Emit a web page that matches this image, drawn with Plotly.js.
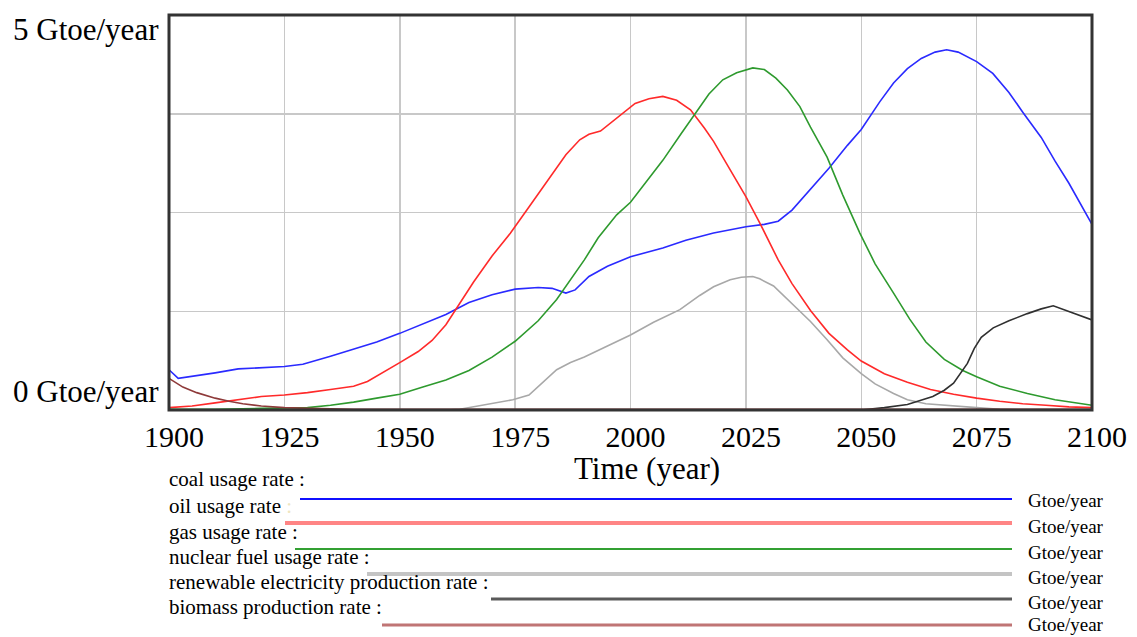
<!DOCTYPE html>
<html>
<head>
<meta charset="utf-8">
<script src="https://cdn.plot.ly/plotly-3.0.1.min.js"></script>
<style>html,body{margin:0;padding:0;background:#fff;}#chart{width:1137px;height:637px;}</style>
</head>
<body>
<div id="chart"></div>
<script>
// ---- data (Gtoe/year) ----
var coalYears = [1900,1902,1910,1915,1925,1929,1935,1940,1945,1950,1955,1960,1965,1970,1975,1980,1983,1986,1988,1991,1995,2000,2007,2012,2018,2025,2029,2032,2035,2039,2043,2047,2050,2054,2057,2060,2063,2066,2068.5,2071,2075,2078.5,2082,2085,2089,2092,2095,2100];
var coalValues = [0.51,0.40,0.47,0.52,0.55,0.58,0.68,0.77,0.86,0.97,1.09,1.21,1.36,1.46,1.53,1.55,1.54,1.48,1.52,1.69,1.82,1.94,2.05,2.15,2.24,2.32,2.35,2.39,2.53,2.80,3.06,3.35,3.55,3.90,4.14,4.32,4.45,4.53,4.56,4.53,4.41,4.26,4.02,3.77,3.45,3.15,2.87,2.35];

var oilYears = [1900,1905,1910,1915,1920,1925,1930,1935,1940,1943,1946,1950,1954,1957,1960,1963,1966,1970,1974,1978,1982,1986,1989,1991,1993.5,1996,1998.5,2001,2004,2007,2010,2013,2016,2018,2021,2025,2028,2032,2035,2039,2043,2047,2050,2055,2060,2065,2070,2075,2080,2085,2090,2095,2100];
var oilValues = [0.03,0.05,0.09,0.13,0.17,0.19,0.22,0.26,0.30,0.36,0.46,0.60,0.74,0.88,1.08,1.35,1.62,1.95,2.24,2.57,2.90,3.23,3.42,3.49,3.53,3.65,3.77,3.88,3.94,3.97,3.92,3.80,3.57,3.40,3.10,2.70,2.37,1.90,1.60,1.26,0.97,0.76,0.62,0.46,0.35,0.26,0.20,0.15,0.11,0.08,0.06,0.04,0.03];

var gasYears = [1900,1910,1920,1930,1935,1940,1945,1950,1955,1960,1965,1970,1975,1980,1984,1987,1990,1993,1997,2000,2004,2007,2011,2014.5,2017,2020,2023,2026.5,2029,2031.5,2034,2036.7,2039,2042.6,2046,2049.7,2053,2057,2060.5,2064,2068,2072,2075,2080,2086,2092,2100];
var gasValues = [0.01,0.01,0.02,0.03,0.06,0.10,0.15,0.20,0.29,0.38,0.50,0.67,0.87,1.13,1.40,1.65,1.90,2.18,2.47,2.63,2.93,3.16,3.50,3.80,4.00,4.18,4.27,4.33,4.31,4.20,4.05,3.84,3.58,3.20,2.72,2.24,1.85,1.48,1.15,0.86,0.64,0.50,0.42,0.30,0.21,0.13,0.06];

var nuclearYears = [1900,1960,1963,1966,1970,1974.5,1978,1981,1984,1987,1990,1995,2000,2005,2010.7,2015,2018,2021.6,2024,2026.5,2028,2031,2035,2039,2042.6,2046,2050,2053,2057,2060,2064,2070,2075,2080,2085,2100];
var nuclearValues = [0,0,0.01,0.04,0.08,0.13,0.19,0.35,0.51,0.60,0.67,0.81,0.95,1.11,1.27,1.45,1.56,1.65,1.68,1.69,1.66,1.57,1.35,1.12,0.89,0.66,0.46,0.33,0.21,0.13,0.08,0.05,0.03,0.01,0,0];

var renewableYears = [1900,2050,2055,2060,2065.5,2068,2070,2072,2073,2074.5,2076,2078.6,2082,2086,2089,2091.6,2094,2096,2100];
var renewableValues = [0,0,0.03,0.07,0.17,0.25,0.34,0.50,0.59,0.78,0.92,1.04,1.13,1.22,1.28,1.32,1.27,1.22,1.14];

var biomassYears = [1900,1901,1903,1906,1910,1913,1916,1920,1925,1930,1940,2100];
var biomassValues = [0.40,0.36,0.29,0.22,0.15,0.11,0.08,0.05,0.03,0.02,0.01,0.01];

var seriesNames = ["coal usage rate :", "oil usage rate <span style=\"color:#efe6c0\">:</span>", "gas usage rate :", "nuclear fuel usage rate :", "renewable electricity production rate :", "biomass production rate :"];
var unitLabel = "Gtoe/year";
var xTickVals = [1900,1925,1950,1975,2000,2025,2050,2075,2100];
var yGridVals = [0,1.25,2.5,3.75,5];
var yTickLabels = ["0 Gtoe/year","5 Gtoe/year"];
var xTitle = "Time (year)";

// ---- styles ----
var plotColors = ["#2a2aff","#ff2a2a","#2e9a2e","#a8a8a8","#303030","#8e3a3a"];
var legendColors = ["#1010ff","#ff8585","#33a033","#c4c4c4","#5a5a5a","#c07575"];
var legendWidths = [2,4,2,4,3,3];
var legendLineStart = [300,285,295,367,491,382];
var legendLineY = [499,523,549,574,599,625];
var legendTextY = [479,506,532,557,582,607];
var unitTextY = [500,526,552,577,602,624];

var PL = 169, PB = 410, PR = 1092, PT = 15;
var serif = "Liberation Serif, Times New Roman, serif";

var xs = [coalYears, oilYears, gasYears, nuclearYears, renewableYears, biomassYears];
var ys = [coalValues, oilValues, gasValues, nuclearValues, renewableValues, biomassValues];
var traces = [];
for (var i = 0; i < xs.length; i++) {
  traces.push({x: xs[i], y: ys[i], type: "scatter", mode: "lines",
    line: {color: plotColors[i], width: 1.6}, hoverinfo: "skip", cliponaxis: true});
}

var annotations = [];
var shapes = [];
// y labels
annotations.push({xref:"paper", yref:"y", x:0, y:5, xanchor:"right", yanchor:"top", xshift:-8, yshift:5,
  text:yTickLabels[1], showarrow:false, font:{family:serif, size:31, color:"#000"}});
annotations.push({xref:"paper", yref:"y", x:0, y:0, xanchor:"right", yanchor:"bottom", xshift:-8, yshift:-1,
  text:yTickLabels[0], showarrow:false, font:{family:serif, size:31, color:"#000"}});
// x title
annotations.push({xref:"paper", yref:"paper", x:(647-PL)/(PR-PL), y:0, xanchor:"center", yanchor:"middle",
  yshift:-(468-PB), text:xTitle, showarrow:false, font:{family:serif, size:31, color:"#000"}});

for (var k = 0; k < seriesNames.length; k++) {
  annotations.push({xref:"paper", yref:"paper", x:0, y:0, xanchor:"left", yanchor:"middle",
    xshift:(167-PL), yshift:-(legendTextY[k]-PB), text:seriesNames[k], showarrow:false,
    font:{family:serif, size:21, color:"#000"}});
  annotations.push({xref:"paper", yref:"paper", x:0, y:0, xanchor:"left", yanchor:"middle",
    xshift:(1026-PL), yshift:-(unitTextY[k]-PB), text:unitLabel, showarrow:false,
    font:{family:serif, size:19, color:"#000"}});
  shapes.push({type:"line", xref:"paper", yref:"paper", xsizemode:"pixel", ysizemode:"pixel",
    xanchor:0, yanchor:0, x0:legendLineStart[k]-PL, x1:1012-PL, y0:-(legendLineY[k]-PB), y1:-(legendLineY[k]-PB),
    line:{color:legendColors[k], width:legendWidths[k]}});
}
// frame
shapes.push({type:"rect", xref:"paper", yref:"paper", x0:0, x1:1, y0:0, y1:1, layer:"above",
  line:{color:"#333", width:3}});

var layout = {
  width: 1137, height: 637,
  margin: {l: PL, r: 1137-PR, t: PT, b: 637-PB, pad: 0},
  paper_bgcolor: "#fff", plot_bgcolor: "#fff",
  showlegend: false,
  xaxis: {range:[1900,2100], tickmode:"array", tickvals:xTickVals, ticktext:xTickVals.map(String),
    showgrid:true, gridcolor:"#c8c8c8", gridwidth:1.5, zeroline:false, showline:false,
    ticks:"", ticklabelstandoff:6, ticklabelshift:5, tickfont:{family:serif, size:30, color:"#000"}},
  yaxis: {range:[0,5], tickmode:"array", tickvals:yGridVals, showticklabels:false,
    showgrid:true, gridcolor:"#c8c8c8", gridwidth:1.5, zeroline:false, showline:false, ticks:""},
  annotations: annotations,
  shapes: shapes
};

Plotly.newPlot("chart", traces, layout, {staticPlot:true, displayModeBar:false});
</script>
</body>
</html>
